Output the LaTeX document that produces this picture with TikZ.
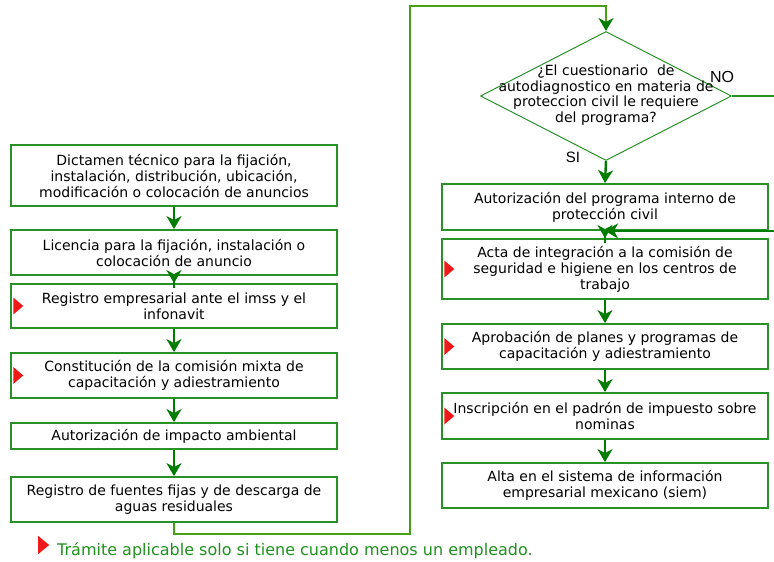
\documentclass[tikz,border=0pt]{standalone}
\usepackage{fontspec}
\setmainfont{DejaVu Sans}
\newfontfamily\arialfont{Liberation Sans}
\usetikzlibrary{arrows.meta,shapes.geometric,positioning}
\definecolor{boxgreen}{RGB}{40,145,40}
\definecolor{arrowgreen}{RGB}{0,125,0}
\definecolor{linkgreen}{RGB}{70,160,20}
\definecolor{flagred}{RGB}{240,25,25}
\definecolor{notegreen}{RGB}{30,145,30}
\tikzset{
	>={Stealth[length=13pt,width=15pt,inset=4pt,color=arrowgreen]},
	box/.style={draw=boxgreen,line width=1.8pt,minimum width=326pt,align=center,inner sep=2pt,font=\fontsize{14}{16}\selectfont},
	decision/.style={diamond,draw=boxgreen,line width=1pt,minimum width=251pt,minimum height=129pt,inner sep=0pt},
	flow/.style={->,draw=arrowgreen,line width=2.4pt},
	link/.style={draw=linkgreen,line width=1.5pt},
	flag/.style={isosceles triangle,isosceles triangle stretches,fill=flagred,inner sep=0pt,minimum width=17pt,minimum height=10pt},
}

\begin{document}
\begin{tikzpicture}[x=1pt,y=-1pt]
			\useasboundingbox (0,0) rectangle (774,562);

			% left column
			\node[box,minimum height=61pt] (dict) at (174,175.5) {Dictamen técnico para la fijación,\\instalación, distribución, ubicación,\\modificación o colocación de anuncios};
			\node[box,minimum height=45pt] (lic) at (174,252.5) {Licencia para la fijación, instalación o\\colocación de anuncio};
			\node[box,minimum height=44pt] (regemp) at (174,306) {Registro empresarial ante el imss y el\\infonavit};
			\node[box,minimum height=45pt] (const) at (174,375.5) {Constitución de la comisión mixta de\\capacitación y adiestramiento};
			\node[box,minimum height=26pt] (impacto) at (174,436) {Autorización de impacto ambiental};
			\node[box,minimum height=45pt] (fuentes) at (174,499.5) {Registro de fuentes fijas y de descarga de\\aguas residuales};

			% right column
			\node[decision] (quest) at (606,96) {};
			\node[align=center,font=\fontsize{14}{15.5}\selectfont,inner sep=0pt] (questtxt) at (606,95) {¿El cuestionario\ \ de\\autodiagnostico en materia de\\proteccion civil le requiere\\del programa?};
			\node[font=\arialfont\fontsize{16}{18}\selectfont,inner sep=0pt] (no) at (722,77) {NO};
			\node[font=\arialfont\fontsize{15}{18}\selectfont,inner sep=0pt] (si) at (573,157) {SI};
			\node[box,minimum height=46pt] (autprog) at (605,207) {Autorización del programa interno de\\protección civil};
			\node[box,minimum height=60pt] (acta) at (605,269) {Acta de integración a la comisión de\\seguridad e higiene en los centros de\\trabajo};
			\node[box,minimum height=45pt] (aprob) at (605,346.5) {Aprobación de planes y programas de\\capacitación y adiestramiento};
			\node[box,minimum height=46pt] (inscr) at (605,416) {Inscripción en el padrón de impuesto sobre\\nominas};
			\node[box,minimum height=45pt] (alta) at (605,485.5) {Alta en el sistema de información\\empresarial mexicano (siem)};

			\node[flag,right=3pt of regemp.west] (flagregemp) {};
			\node[flag,right=3pt of const.west] (flagconst) {};
			\node[flag,right=3pt of acta.west] (flagacta) {};
			\node[flag,right=3pt of aprob.west] (flagaprob) {};
			\node[flag,right=3pt of inscr.west] (flaginscr) {};

			\draw[flow] (dict) -- (lic);
			\draw[flow,shorten <=-12pt] (lic) -- (regemp);
			\draw[flow] (regemp) -- (const);
			\draw[flow] (const) -- (impacto);
			\draw[flow] (impacto) -- (fuentes);

			\coordinate (lowturn) at (410,534);
			\coordinate (topturn) at (410,6);
			\draw[link,->] (fuentes.south) |- (lowturn) -- (topturn) -| (quest.north);

			\draw[flow] (quest.south) -- (autprog.north);
			\coordinate (noturn) at (782,96);
			\draw[draw=boxgreen,line width=1.2pt] (quest.east) -- (noturn);
			\draw[flow] (noturn) |- (autprog.south);
			\draw[flow,shorten <=-12pt] (autprog) -- (acta);
			\draw[flow] (acta) -- (aprob);
			\draw[flow] (aprob) -- (inscr);
			\draw[flow] (inscr) -- (alta);

			% note
			\node[flag,minimum width=18pt,minimum height=11pt] (keyflag) at (42.5,545) {};
			\node[anchor=base west,text=notegreen,font=\fontsize{16}{18}\selectfont,inner sep=0pt] (keytxt) at (57,555) {Trámite aplicable solo si tiene cuando menos un empleado.};

\end{tikzpicture}
\end{document}
